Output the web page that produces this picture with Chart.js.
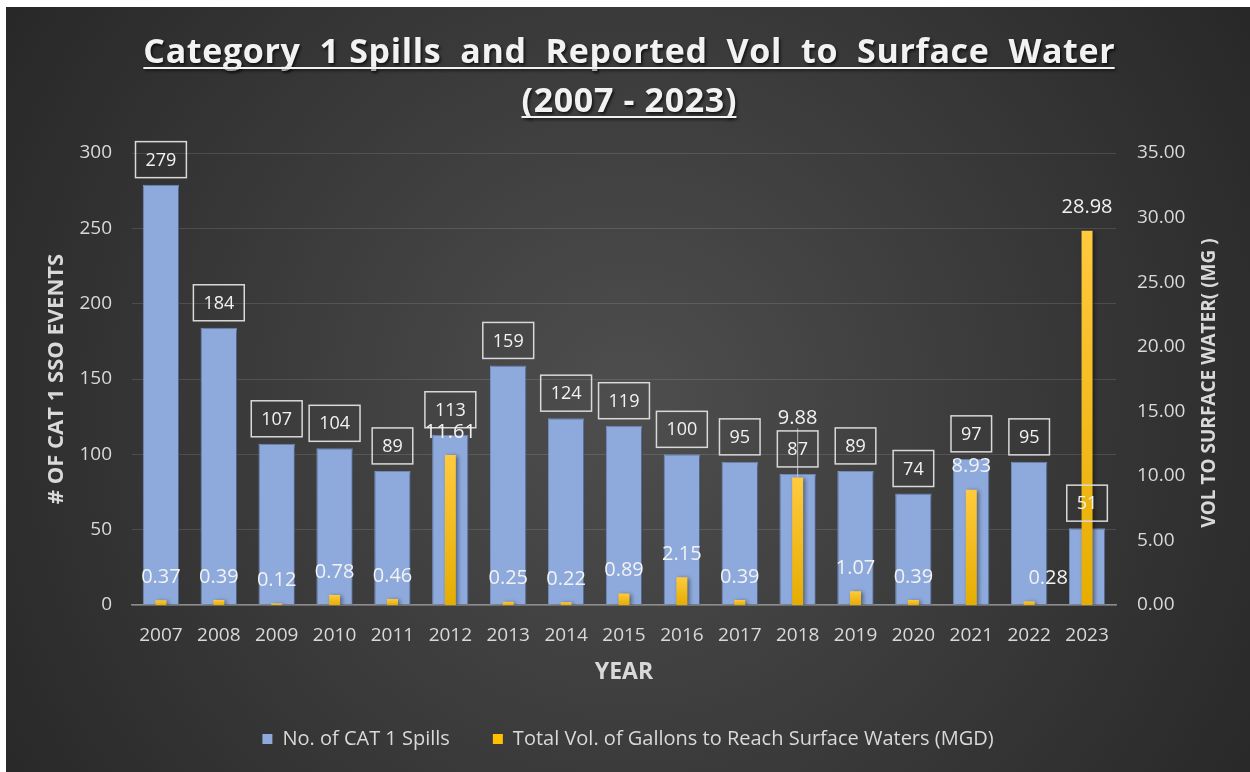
<!DOCTYPE html>
<html>
<head>
<meta charset="utf-8">
<script src="https://cdn.jsdelivr.net/npm/chart.js@4.4.1/dist/chart.umd.min.js"></script>
<style>
  html, body { margin: 0; padding: 0; background: #fff; }
  #wrap { position: absolute; left: 6px; top: 7px; width: 1244px; height: 765px; }
</style>
</head>
<body>
<div id="wrap"><canvas id="chart"></canvas></div>
<script>
const years = ['2007', '2008', '2009', '2010', '2011', '2012', '2013', '2014', '2015',
  '2016', '2017', '2018', '2019', '2020', '2021', '2022', '2023'];
const spills = [279, 184, 107, 104, 89, 113, 159, 124, 119, 100, 95, 87, 89, 74, 97, 95, 51];
const volume = [0.37, 0.39, 0.12, 0.78, 0.46, 11.61, 0.25, 0.22, 0.89, 2.15, 0.39, 9.88, 1.07, 0.39, 8.93, 0.28, 28.98];
const spillTicks = [0, 50, 100, 150, 200, 250, 300];
const volumeTicks = [0, 5, 10, 15, 20, 25, 30, 35];
const titleLines = ['Category  1 Spills  and  Reported  Vol  to  Surface  Water', '(2007 - 2023)'];
// excel nudged a couple of the volume labels out of the way
const volLabelDx = [0, 0, 0, 0, 0, 0, 0, 0, 0, 0, 0, 0, 0, 0, 0, 19, 0];
const volLabelDy = [0, 0, 0, 0, 0, 0, 0, 0, 0, 0, 0, -36, 0, 0, 0, 0, 0];

const FONT = '"Open Sans", "DejaVu Sans", sans-serif';
const TXT = '#D9D9D9';

function yellowFill(ctx) {
  const c = ctx.chart;
  if (!c.chartArea || ctx.raw === undefined) return '#FFC000';
  const top = c.scales.y1.getPixelForValue(ctx.raw);
  const g = c.ctx.createLinearGradient(0, top, 0, c.chartArea.bottom);
  g.addColorStop(0, '#FFCA3E');
  g.addColorStop(1, '#E6AD00');
  return g;
}

const backdrop = {
  id: 'backdrop',
  beforeDraw(chart) {
    const {ctx, width, height} = chart;
    const g = ctx.createRadialGradient(width * 0.5, height * 0.52, 0, width * 0.5, height * 0.52, width * 0.62);
    g.addColorStop(0, '#4e4e4e');
    g.addColorStop(1, '#262626');
    ctx.save();
    ctx.fillStyle = g;
    ctx.fillRect(0, 0, width, height);
    ctx.restore();
  }
};

const heading = {
  id: 'heading',
  afterDraw(chart) {
    const ctx = chart.ctx;
    const cx = 623;
    ctx.save();
    ctx.font = 'bold 34px ' + FONT;
    ctx.letterSpacing = '0px';
    const w0 = ctx.measureText(titleLines[0]).width;
    const ls = (972 - w0) / titleLines[0].length;
    ctx.letterSpacing = ls + 'px';
    ctx.textAlign = 'center';
    ctx.textBaseline = 'alphabetic';
    ctx.fillStyle = '#F2F2F2';
    ctx.strokeStyle = '#F2F2F2';
    ctx.lineWidth = 2;
    ctx.shadowColor = 'rgba(0,0,0,0.7)';
    ctx.shadowBlur = 3;
    ctx.shadowOffsetX = 1.5;
    ctx.shadowOffsetY = 1.5;
    const baselines = [56, 105];
    titleLines.forEach((t, i) => {
      const w = ctx.measureText(t).width - ls;
      ctx.fillText(t, cx + ls / 2, baselines[i]);
      ctx.beginPath();
      ctx.moveTo(cx - w / 2, baselines[i] + 5);
      ctx.lineTo(cx + w / 2, baselines[i] + 5);
      ctx.stroke();
    });
    ctx.restore();

    // right axis title reads bottom-to-top in the original
    ctx.save();
    ctx.translate(1204, 376);
    ctx.rotate(-Math.PI / 2);
    ctx.font = 'bold 19px ' + FONT;
    ctx.fillStyle = TXT;
    ctx.textAlign = 'center';
    ctx.textBaseline = 'middle';
    ctx.fillText('VOL TO SURFACE WATER( (MG )', 0, 0);
    ctx.restore();
  }
};

const barShadow = {
  id: 'barShadow',
  beforeDatasetDraw(chart) {
    const ctx = chart.ctx;
    ctx.save();
    ctx.shadowColor = 'rgba(0,0,0,0.45)';
    ctx.shadowBlur = 4;
    ctx.shadowOffsetX = 2;
    ctx.shadowOffsetY = 1;
  },
  afterDatasetDraw(chart) {
    chart.ctx.restore();
  }
};

const valueLabels = {
  id: 'valueLabels',
  afterDatasetsDraw(chart) {
    const ctx = chart.ctx;
    const blue = chart.getDatasetMeta(1).data;
    const gold = chart.getDatasetMeta(0).data;
    ctx.save();
    ctx.textAlign = 'center';
    ctx.textBaseline = 'middle';

    // boxed counts above the blue bars
    ctx.font = '18px ' + FONT;
    blue.forEach((bar, i) => {
      const t = String(spills[i]);
      const w = ctx.measureText(t).width + 20;
      const cy = bar.y - 25;
      ctx.strokeStyle = TXT;
      ctx.lineWidth = 1.5;
      ctx.strokeRect(bar.x - w / 2, cy - 18, w, 36);
      ctx.fillStyle = '#F2F2F2';
      ctx.fillText(t, bar.x, cy + 1);
    });

    // volumes above the gold bars
    ctx.font = '20px ' + FONT;
    gold.forEach((bar, i) => {
      const x = bar.x + volLabelDx[i];
      const y = bar.y - 23 + volLabelDy[i];
      if (volLabelDy[i] !== 0) {
        ctx.strokeStyle = 'rgba(217,217,217,0.8)';
        ctx.lineWidth = 1;
        ctx.beginPath();
        ctx.moveTo(bar.x, y + 10);
        ctx.lineTo(bar.x, bar.y);
        ctx.stroke();
      }
      ctx.fillStyle = '#F2F2F2';
      ctx.fillText(volume[i].toFixed(2), x, y);
    });
    ctx.restore();
  }
};

new Chart(document.getElementById('chart'), {
  type: 'bar',
  data: {
    labels: years,
    datasets: [
      {
        label: 'Total Vol. of Gallons to Reach Surface Waters (MGD)',
        data: volume,
        yAxisID: 'y1',
        order: 0,
        grouped: false,
        barPercentage: 0.19,
        categoryPercentage: 1,
        backgroundColor: yellowFill
      },
      {
        label: 'No. of CAT 1 Spills',
        data: spills,
        yAxisID: 'y',
        order: 1,
        grouped: false,
        barPercentage: 0.63,
        categoryPercentage: 1,
        backgroundColor: '#8EA9DB',
        borderColor: '#7C97C9',
        borderWidth: 1
      }
    ]
  },
  options: {
    responsive: true,
    maintainAspectRatio: false,
    animation: false,
    events: [],
    layout: { padding: { top: 146, bottom: 13, left: 0, right: 0 } },
    plugins: {
      tooltip: { enabled: false },
      title: { display: false },
      legend: {
        position: 'bottom',
        reverse: true,
        labels: {
          color: TXT,
          font: { family: FONT, size: 20 },
          boxWidth: 10,
          boxHeight: 10,
          padding: 43,
          generateLabels: (c) => Chart.defaults.plugins.legend.labels.generateLabels(c).map(it =>
            Object.assign(it, { fillStyle: it.datasetIndex === 0 ? '#FFC000' : '#8EA9DB', strokeStyle: 'rgba(0,0,0,0)', lineWidth: 0 }))
        }
      }
    },
    scales: {
      x: {
        grid: { display: false, drawTicks: false },
        border: { color: '#8C8C8C', width: 1.5 },
        ticks: { color: TXT, font: { family: FONT, size: 19 }, padding: 19, maxRotation: 0, autoSkip: false },
        title: { display: true, text: 'YEAR', color: TXT, font: { family: FONT, size: 23, weight: 'bold' }, padding: 0 },
        afterFit: (s) => { s.height = 81; }
      },
      y: {
        position: 'left',
        min: 0,
        max: 300,
        afterBuildTicks: (s) => { s.ticks = spillTicks.map(v => ({ value: v })); },
        grid: { color: 'rgba(255,255,255,0.12)', drawTicks: false },
        border: { display: false },
        ticks: { color: TXT, font: { family: FONT, size: 19 }, padding: 20 },
        title: { display: true, text: '# OF CAT 1 SSO EVENTS', color: TXT, font: { family: FONT, size: 22, weight: 'bold' }, padding: { top: 38, bottom: 0 } },
        afterFit: (s) => { s.width = 126; }
      },
      y1: {
        position: 'right',
        min: 0,
        max: 35,
        afterBuildTicks: (s) => { s.ticks = volumeTicks.map(v => ({ value: v })); },
        grid: { display: false, drawTicks: false },
        border: { display: false },
        ticks: { color: TXT, font: { family: FONT, size: 19 }, padding: 21, callback: (v) => Number(v).toFixed(2) },
        afterFit: (s) => { s.width = 134; }
      }
    }
  },
  plugins: [backdrop, heading, barShadow, valueLabels]
});
</script>
</body>
</html>
